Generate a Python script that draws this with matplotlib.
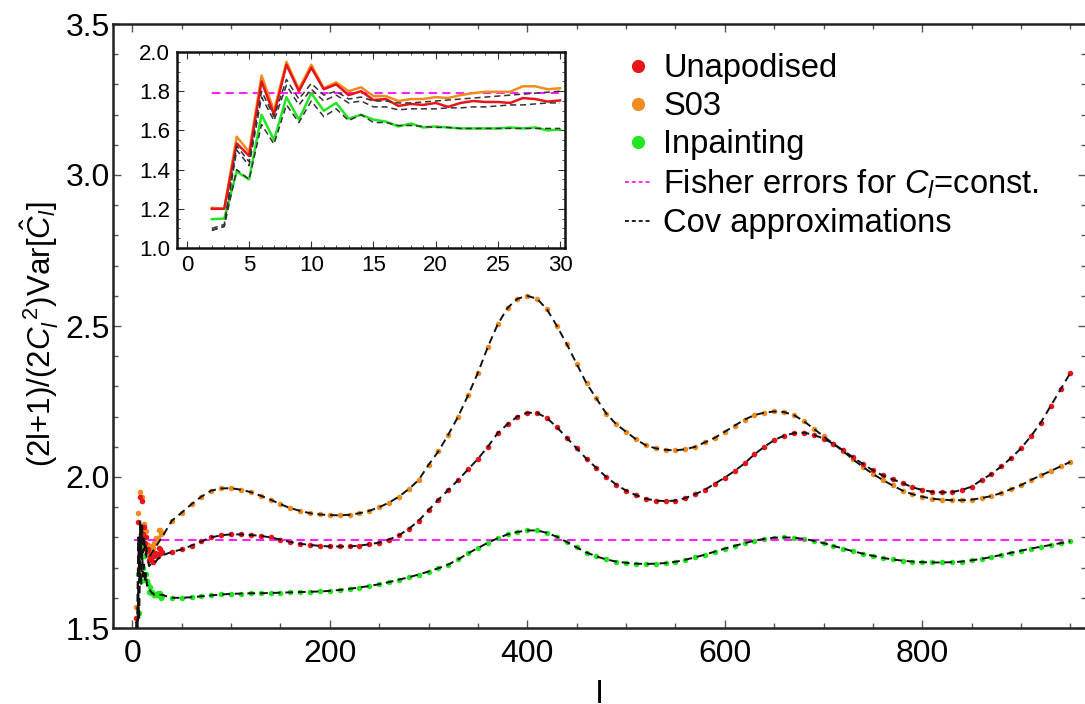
import numpy as np
import matplotlib
matplotlib.use("Agg")
import matplotlib.pyplot as plt
from matplotlib.ticker import MultipleLocator, FormatStrFormatter
from matplotlib.lines import Line2D

plt.rcParams['font.family'] = ['Liberation Sans', 'DejaVu Sans']
plt.rcParams['mathtext.fontset'] = 'custom'
plt.rcParams['mathtext.rm'] = 'Liberation Sans'
plt.rcParams['mathtext.it'] = 'Liberation Sans:italic'
plt.rcParams['mathtext.bf'] = 'Liberation Sans:bold'

# ---- low multipoles, l = 2..30 ----
ell_low = np.arange(2, 31)
unapod_low = [1.20, 1.20, 1.534, 1.47, 1.85, 1.68, 1.935, 1.80, 1.92, 1.81,
              1.835, 1.78, 1.80, 1.755, 1.76, 1.725, 1.735, 1.73, 1.74, 1.72,
              1.74, 1.75, 1.745, 1.745, 1.74, 1.765, 1.76, 1.747, 1.753]
s03_low = [1.205, 1.20, 1.568, 1.49, 1.88, 1.70, 1.95, 1.81, 1.935, 1.815,
           1.845, 1.80, 1.82, 1.775, 1.775, 1.75, 1.76, 1.76, 1.77, 1.765,
           1.78, 1.79, 1.797, 1.797, 1.797, 1.825, 1.825, 1.81, 1.815]
inpaint_low = [1.147, 1.15, 1.39, 1.35, 1.68, 1.55, 1.77, 1.655, 1.79, 1.70,
               1.74, 1.66, 1.68, 1.655, 1.645, 1.62, 1.635, 1.615, 1.62, 1.615,
               1.61, 1.61, 1.61, 1.61, 1.615, 1.61, 1.615, 1.60, 1.605]
cov_unapod_low = [1.09, 1.11, 1.50, 1.42, 1.77, 1.65, 1.83, 1.73, 1.81, 1.75,
                  1.78, 1.74, 1.75, 1.72, 1.72, 1.705, 1.71, 1.71, 1.71, 1.715,
                  1.715, 1.72, 1.72, 1.725, 1.73, 1.73, 1.735, 1.74, 1.74]
cov_s03_low = [1.10, 1.12, 1.52, 1.44, 1.80, 1.67, 1.86, 1.76, 1.84, 1.78,
               1.80, 1.76, 1.77, 1.75, 1.75, 1.74, 1.74, 1.745, 1.75, 1.755,
               1.76, 1.765, 1.77, 1.775, 1.78, 1.785, 1.79, 1.795, 1.80]
cov_inpaint_low = [1.09, 1.11, 1.40, 1.35, 1.63, 1.53, 1.73, 1.64, 1.75, 1.67,
                   1.71, 1.65, 1.68, 1.64, 1.64, 1.625, 1.625, 1.62, 1.615, 1.615,
                   1.61, 1.61, 1.61, 1.61, 1.61, 1.61, 1.61, 1.61, 1.61]

# ---- l = 40..950 in steps of 10 ----
ell_high = np.arange(40, 951, 10)
unapod_high = [
    1.752, 1.76, 1.773, 1.787, 1.80, 1.807, 1.81, 1.81, 1.808, 1.805,
    1.80, 1.793, 1.785, 1.779, 1.775, 1.772, 1.77, 1.77, 1.77, 1.773,
    1.777, 1.783, 1.793, 1.807, 1.828, 1.855, 1.89, 1.925, 1.957, 1.99,
    2.025, 2.06, 2.10, 2.145, 2.175, 2.20, 2.213, 2.212, 2.195, 2.165,
    2.13, 2.095, 2.06, 2.03, 2.00, 1.975, 1.955, 1.94, 1.928, 1.922,
    1.92, 1.922, 1.93, 1.943, 1.958, 1.978, 1.998, 2.02, 2.045, 2.075,
    2.10, 2.122, 2.137, 2.145, 2.147, 2.14, 2.127, 2.11, 2.088, 2.065,
    2.043, 2.022, 2.005, 1.992, 1.98, 1.966, 1.957, 1.951, 1.949, 1.95,
    1.957, 1.968, 1.99, 2.01, 2.035, 2.063, 2.095, 2.135, 2.18, 2.235,
    2.29, 2.345]
s03_high = [
    1.855, 1.882, 1.91, 1.935, 1.955, 1.962, 1.963, 1.958, 1.95, 1.938,
    1.925, 1.91, 1.897, 1.888, 1.88, 1.876, 1.874, 1.873, 1.875, 1.88,
    1.888, 1.90, 1.915, 1.935, 1.96, 1.99, 2.04, 2.085, 2.14, 2.20,
    2.27, 2.345, 2.43, 2.505, 2.56, 2.59, 2.60, 2.59, 2.555, 2.50,
    2.44, 2.375, 2.31, 2.26, 2.21, 2.175, 2.15, 2.125, 2.105, 2.095,
    2.09, 2.088, 2.092, 2.10, 2.115, 2.13, 2.15, 2.17, 2.19, 2.205,
    2.213, 2.217, 2.215, 2.205, 2.185, 2.16, 2.135, 2.11, 2.085, 2.058,
    2.033, 2.01, 1.99, 1.972, 1.955, 1.943, 1.935, 1.928, 1.925, 1.923,
    1.923, 1.925, 1.93, 1.937, 1.947, 1.96, 1.973, 1.99, 2.005, 2.02,
    2.035, 2.05]
inpaint_high = [
    1.60, 1.60, 1.602, 1.605, 1.608, 1.611, 1.613, 1.614, 1.615, 1.615,
    1.616, 1.617, 1.618, 1.619, 1.62, 1.621, 1.623, 1.626, 1.63, 1.634,
    1.639, 1.645, 1.652, 1.66, 1.668, 1.677, 1.687, 1.698, 1.71, 1.727,
    1.747, 1.765, 1.782, 1.797, 1.81, 1.818, 1.823, 1.823, 1.815, 1.802,
    1.785, 1.767, 1.75, 1.737, 1.727, 1.72, 1.716, 1.713, 1.712, 1.713,
    1.715, 1.719, 1.726, 1.734, 1.743, 1.753, 1.763, 1.772, 1.781, 1.789,
    1.795, 1.799, 1.80, 1.799, 1.795, 1.789, 1.781, 1.772, 1.763, 1.754,
    1.746, 1.739, 1.732, 1.727, 1.723, 1.72, 1.718, 1.717, 1.717, 1.718,
    1.72, 1.724, 1.729, 1.735, 1.742, 1.749, 1.756, 1.763, 1.769, 1.775,
    1.781, 1.787]

FISHER = 1.793

RED = '#e8141c'
ORANGE = '#f08c1e'
GREEN = '#22e622'
MAGENTA = '#ff22ff'
DASH_K = '#111111'

labels = ['Unapodised', 'S03', 'Inpainting',
          r'Fisher errors for $C_l$=const.', 'Cov approximations']

fig = plt.figure(figsize=(10.85, 7.04), dpi=100)
ax = fig.add_axes([113 / 1085, 76 / 704, 973 / 1085, 604 / 704])

ell_all = np.concatenate([ell_low, ell_high])
series = [
    (s03_low, s03_high, cov_s03_low, ORANGE),
    (unapod_low, unapod_high, cov_unapod_low, RED),
    (inpaint_low, inpaint_high, cov_inpaint_low, GREEN),
]
for obs_lo, obs_hi, cov_lo, col in series:
    ax.scatter(ell_all, np.concatenate([obs_lo, obs_hi]), s=16, color=col,
               linewidths=0, zorder=2, clip_on=True)
ax.hlines(FISHER, ell_low[0], ell_high[-1], colors=MAGENTA, linestyles=(0, (4, 2.5)),
          linewidth=1.5, zorder=3)
for obs_lo, obs_hi, cov_lo, col in series:
    ax.plot(ell_all, np.concatenate([cov_lo, obs_hi]), color=DASH_K,
            ls=(0, (4, 2.5)), lw=1.4, zorder=4)

ax.set_xlim(-19.5, 965.8)
ax.set_ylim(1.5, 3.5)
ax.xaxis.set_major_locator(MultipleLocator(200))
ax.xaxis.set_minor_locator(MultipleLocator(50))
ax.yaxis.set_major_locator(MultipleLocator(0.5))
ax.yaxis.set_minor_locator(MultipleLocator(0.1))
ax.yaxis.set_major_formatter(FormatStrFormatter('%.1f'))
ax.tick_params(which='both', direction='in', top=True, right=True, labelsize=23,
               width=1.0, color='#555555')
ax.tick_params(which='major', length=6)
ax.tick_params(axis='x', which='major', pad=8)
ax.tick_params(axis='y', which='major', pad=2)
ax.tick_params(which='minor', length=3.5)
for sp in ax.spines.values():
    sp.set_linewidth(1.8)
    sp.set_color('#222222')

ax.set_xlabel('l', fontsize=23)
ax.xaxis.set_label_coords(0.5, -0.086)
ax.xaxis.label.set_va('top')
ax.set_ylabel(r'(2l+1)/(2$C_l^{\ 2}$)Var[$\hat{C}_l$]', fontsize=22.5)
ax.yaxis.set_label_coords(-0.053, 0.487)

handles = [
    Line2D([], [], ls='none', marker='o', ms=8.5, color=RED),
    Line2D([], [], ls='none', marker='o', ms=8.5, color=ORANGE),
    Line2D([], [], ls='none', marker='o', ms=8.5, color=GREEN),
    Line2D([], [], color=MAGENTA, ls=(0, (2.2, 1.6)), lw=1.3),
    Line2D([], [], color=DASH_K, ls=(0, (2.2, 1.6)), lw=1.3),
]
ax.legend(handles, labels, loc='upper left', bbox_to_anchor=(625 / 1085, (704 - 53) / 704),
          bbox_transform=fig.transFigure, frameon=False, fontsize=23.5,
          handlelength=0.8, handletextpad=0.37, labelspacing=0.22,
          borderaxespad=0, borderpad=0)

# ---- inset: l = 2..30 ----
axin = fig.add_axes([177 / 1085, (704 - 248) / 704, 388 / 1085, 196 / 704])
axin.set_facecolor('white')
axin.hlines(FISHER, ell_low[0], ell_low[-1], colors=MAGENTA, linestyles=(0, (4, 2.5)),
            linewidth=1.5, zorder=2)
axin.plot(ell_low, s03_low, color=ORANGE, lw=1.8, zorder=3)
axin.plot(ell_low, unapod_low, color=RED, lw=1.8, zorder=3)
axin.plot(ell_low, inpaint_low, color=GREEN, lw=1.8, zorder=3)
for cov in (cov_s03_low, cov_unapod_low, cov_inpaint_low):
    axin.plot(ell_low, cov, color='#333333', ls=(0, (4, 2.5)), lw=1.1, zorder=4)
axin.set_xlim(-0.8, 30.4)
axin.set_ylim(1.0, 2.0)
axin.xaxis.set_major_locator(MultipleLocator(5))
axin.xaxis.set_minor_locator(MultipleLocator(1))
axin.yaxis.set_major_locator(MultipleLocator(0.2))
axin.yaxis.set_minor_locator(MultipleLocator(0.05))
axin.yaxis.set_major_formatter(FormatStrFormatter('%.1f'))
axin.tick_params(which='both', direction='in', top=True, right=True, labelsize=16,
                 color='#333333')
axin.tick_params(which='major', length=5, pad=5)
axin.tick_params(which='minor', length=2.5)
for sp in axin.spines.values():
    sp.set_linewidth(1.8)
    sp.set_color('#111111')

fig.savefig('out.png', dpi=100)
